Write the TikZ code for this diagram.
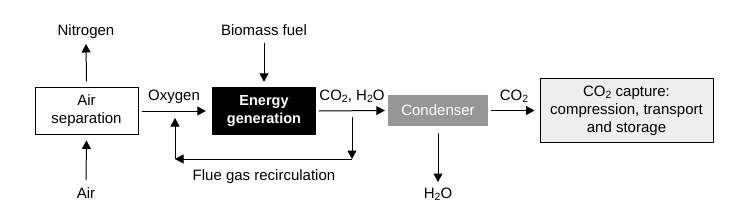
\documentclass[tikz,border=0pt]{standalone}
\usepackage{fontspec}
\setmainfont{Liberation Sans}
\usetikzlibrary{arrows.meta}
\definecolor{condgray}{RGB}{150,150,150}
\definecolor{capfill}{RGB}{238,238,238}
\newcommand{\mysub}[1]{\raisebox{-0.3ex}{\fontsize{10.5}{10.5}\selectfont #1}}
\begin{document}
\begin{tikzpicture}[x=1pt,y=-1pt,
  every node/.style={font=\fontsize{15}{18}\selectfont},
  arr/.style={line width=1pt,-{Triangle[length=8.5pt,width=9pt]}},
  lbl/.style={anchor=base,inner sep=0pt},
  boxw/.style={draw,line width=1pt,align=center,inner sep=0pt},
]
\useasboundingbox (0,0) rectangle (735,219);
% boxes
\node[boxw,minimum width=103pt,minimum height=46pt] (airsep) at (86.5,111) {Air\\separation};
\node[fill=black,text=white,align=center,inner sep=0pt,minimum width=104pt,minimum height=48pt,
      font=\fontsize{14.5}{18}\selectfont\bfseries] (energy) at (264,111) {Energy\\generation};
\node[fill=condgray,text=white,inner sep=0pt,minimum width=100pt,minimum height=31pt] (cond) at (438,110.5) {Condenser};
\node[boxw,fill=capfill,minimum width=173pt,minimum height=63pt] (capture) at (626.5,110.5)
  {CO\mysub{2} capture:\\compression, transport\\and storage};
% labels
\node[lbl] (nitrogen) at (86,36) {Nitrogen};
\node[lbl] (air) at (86,198) {Air};
\node[lbl] (biomass) at (264,36) {Biomass fuel};
\node[lbl] (oxygen) at (174,100.5) {Oxygen};
\node[lbl] (coh) at (352,100.5) {CO\mysub{2}, H\mysub{2}O};
\node[lbl] (flue) at (264,180) {Flue gas recirculation};
\node[lbl] (co2) at (514,100.5) {CO\mysub{2}};
\node[lbl] (h2o) at (438,198) {H\mysub{2}O};
% connectors
\draw[arr] ([yshift=6pt]airsep.north) -- ([yshift=-8pt]nitrogen.base);
\draw[arr] ([yshift=18pt]air.base) -- ([yshift=-6pt]airsep.south);
\draw[arr] ([yshift=-7pt]biomass.base) -- ([yshift=5pt]energy.north);
\draw[arr] ([xshift=3pt]airsep.east) -- ([xshift=-6pt]energy.west);
\draw[arr] ([xshift=3pt]energy.east) -- ([xshift=-3pt]cond.west);
\draw[arr] ([xshift=3pt]cond.east) -- ([xshift=-5pt]capture.west);
\draw[arr] ([yshift=-7pt]cond.south) -- ([yshift=16pt]h2o.base);
% recirculation
\coordinate (ra) at (352,117);
\coordinate (rb) at (352,159);
\coordinate (rc) at (175,159);
\coordinate (rd) at (175,118);
\draw[arr] (ra) -- (rb);
\draw[arr] (rb) -- (rc);
\draw[arr] (rc) -- (rd);
\end{tikzpicture}
\end{document}
